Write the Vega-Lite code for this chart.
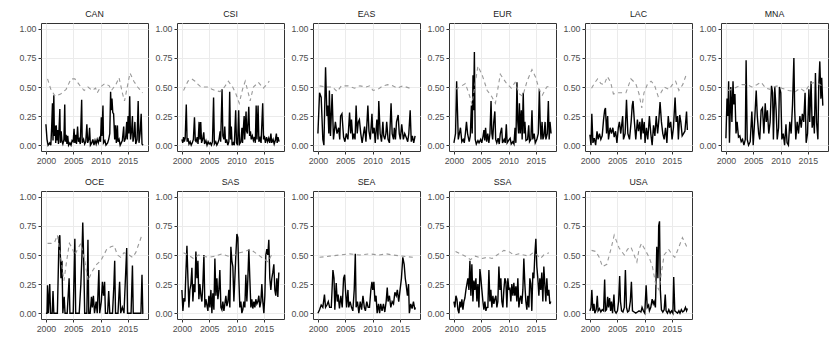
{
"$schema": "https://vega.github.io/schema/vega-lite/v6.json",
"background": "white",
"padding": {"left": 18, "top": 9, "right": 2, "bottom": 2},
"config": {
 "font": "Liberation Sans",
 "view": {"stroke": "#333333", "strokeWidth": 1},
 "axis": {"labelFont": "Liberation Sans", "labelFontSize": 8.8, "labelColor": "#4D4D4D", "tickColor": "#333333", "tickSize": 3, "labelPadding": 2, "domain": false, "gridColor": "#EBEBEB", "gridWidth": 1, "title": null}
},
"data": {"values": [
{"r":"CAN","k":"m","t":2000.0,"v":0.18},{"r":"CAN","k":"m","t":2000.2,"v":0.05},{"r":"CAN","k":"m","t":2000.4,"v":0.0},{"r":"CAN","k":"m","t":2000.7,"v":0.02},{"r":"CAN","k":"m","t":2000.9,"v":0.0},{"r":"CAN","k":"m","t":2001.05,"v":0.15},{"r":"CAN","k":"m","t":2001.2,"v":0.36},{"r":"CAN","k":"m","t":2001.3,"v":0.04},{"r":"CAN","k":"m","t":2001.45,"v":0.43},{"r":"CAN","k":"m","t":2001.55,"v":0.08},{"r":"CAN","k":"m","t":2001.7,"v":0.17},{"r":"CAN","k":"m","t":2001.8,"v":0.02},{"r":"CAN","k":"m","t":2001.9,"v":0.17},{"r":"CAN","k":"m","t":2002.0,"v":0.04},{"r":"CAN","k":"m","t":2002.15,"v":0.13},{"r":"CAN","k":"m","t":2002.3,"v":0.01},{"r":"CAN","k":"m","t":2002.55,"v":0.31},{"r":"CAN","k":"m","t":2002.65,"v":0.02},{"r":"CAN","k":"m","t":2002.8,"v":0.12},{"r":"CAN","k":"m","t":2002.95,"v":0.03},{"r":"CAN","k":"m","t":2003.1,"v":0.01},{"r":"CAN","k":"m","t":2003.3,"v":0.05},{"r":"CAN","k":"m","t":2003.45,"v":0.35},{"r":"CAN","k":"m","t":2003.55,"v":0.03},{"r":"CAN","k":"m","t":2003.7,"v":0.09},{"r":"CAN","k":"m","t":2003.85,"v":0.01},{"r":"CAN","k":"m","t":2004.0,"v":0.08},{"r":"CAN","k":"m","t":2004.15,"v":0.0},{"r":"CAN","k":"m","t":2004.4,"v":0.02},{"r":"CAN","k":"m","t":2004.6,"v":0.0},{"r":"CAN","k":"m","t":2004.8,"v":0.04},{"r":"CAN","k":"m","t":2005.0,"v":0.03},{"r":"CAN","k":"m","t":2005.15,"v":0.14},{"r":"CAN","k":"m","t":2005.3,"v":0.02},{"r":"CAN","k":"m","t":2005.45,"v":0.09},{"r":"CAN","k":"m","t":2005.6,"v":0.01},{"r":"CAN","k":"m","t":2005.8,"v":0.16},{"r":"CAN","k":"m","t":2005.95,"v":0.03},{"r":"CAN","k":"m","t":2006.1,"v":0.05},{"r":"CAN","k":"m","t":2006.3,"v":0.01},{"r":"CAN","k":"m","t":2006.55,"v":0.39},{"r":"CAN","k":"m","t":2006.65,"v":0.02},{"r":"CAN","k":"m","t":2006.9,"v":0.05},{"r":"CAN","k":"m","t":2007.1,"v":0.01},{"r":"CAN","k":"m","t":2007.3,"v":0.03},{"r":"CAN","k":"m","t":2007.5,"v":0.18},{"r":"CAN","k":"m","t":2007.65,"v":0.02},{"r":"CAN","k":"m","t":2007.85,"v":0.05},{"r":"CAN","k":"m","t":2008.0,"v":0.15},{"r":"CAN","k":"m","t":2008.15,"v":0.0},{"r":"CAN","k":"m","t":2008.4,"v":0.02},{"r":"CAN","k":"m","t":2008.6,"v":0.05},{"r":"CAN","k":"m","t":2008.8,"v":0.0},{"r":"CAN","k":"m","t":2009.0,"v":0.04},{"r":"CAN","k":"m","t":2009.2,"v":0.01},{"r":"CAN","k":"m","t":2009.4,"v":0.05},{"r":"CAN","k":"m","t":2009.6,"v":0.02},{"r":"CAN","k":"m","t":2009.8,"v":0.06},{"r":"CAN","k":"m","t":2010.0,"v":0.03},{"r":"CAN","k":"m","t":2010.15,"v":0.24},{"r":"CAN","k":"m","t":2010.25,"v":0.08},{"r":"CAN","k":"m","t":2010.45,"v":0.34},{"r":"CAN","k":"m","t":2010.55,"v":0.02},{"r":"CAN","k":"m","t":2010.8,"v":0.04},{"r":"CAN","k":"m","t":2011.0,"v":0.0},{"r":"CAN","k":"m","t":2011.3,"v":0.02},{"r":"CAN","k":"m","t":2011.5,"v":0.05},{"r":"CAN","k":"m","t":2011.7,"v":0.1},{"r":"CAN","k":"m","t":2011.85,"v":0.46},{"r":"CAN","k":"m","t":2011.95,"v":0.3},{"r":"CAN","k":"m","t":2012.1,"v":0.4},{"r":"CAN","k":"m","t":2012.25,"v":0.28},{"r":"CAN","k":"m","t":2012.4,"v":0.27},{"r":"CAN","k":"m","t":2012.6,"v":0.05},{"r":"CAN","k":"m","t":2012.75,"v":0.17},{"r":"CAN","k":"m","t":2012.9,"v":0.02},{"r":"CAN","k":"m","t":2013.1,"v":0.17},{"r":"CAN","k":"m","t":2013.2,"v":0.03},{"r":"CAN","k":"m","t":2013.4,"v":0.05},{"r":"CAN","k":"m","t":2013.6,"v":0.0},{"r":"CAN","k":"m","t":2013.8,"v":0.02},{"r":"CAN","k":"m","t":2014.0,"v":0.04},{"r":"CAN","k":"m","t":2014.25,"v":0.16},{"r":"CAN","k":"m","t":2014.35,"v":0.03},{"r":"CAN","k":"m","t":2014.6,"v":0.06},{"r":"CAN","k":"m","t":2014.8,"v":0.2},{"r":"CAN","k":"m","t":2014.9,"v":0.05},{"r":"CAN","k":"m","t":2015.05,"v":0.25},{"r":"CAN","k":"m","t":2015.2,"v":0.1},{"r":"CAN","k":"m","t":2015.35,"v":0.42},{"r":"CAN","k":"m","t":2015.5,"v":0.05},{"r":"CAN","k":"m","t":2015.7,"v":0.13},{"r":"CAN","k":"m","t":2015.85,"v":0.25},{"r":"CAN","k":"m","t":2015.95,"v":0.03},{"r":"CAN","k":"m","t":2016.15,"v":0.08},{"r":"CAN","k":"m","t":2016.3,"v":0.2},{"r":"CAN","k":"m","t":2016.45,"v":0.01},{"r":"CAN","k":"m","t":2016.7,"v":0.05},{"r":"CAN","k":"m","t":2016.9,"v":0.38},{"r":"CAN","k":"m","t":2017.05,"v":0.02},{"r":"CAN","k":"m","t":2017.25,"v":0.1},{"r":"CAN","k":"m","t":2017.45,"v":0.27},{"r":"CAN","k":"m","t":2017.6,"v":0.01},{"r":"CAN","k":"m","t":2017.8,"v":0.0},
{"r":"CAN","k":"d","t":2000.3,"v":0.57},{"r":"CAN","k":"d","t":2000.9,"v":0.48},{"r":"CAN","k":"d","t":2001.7,"v":0.42},{"r":"CAN","k":"d","t":2002.7,"v":0.44},{"r":"CAN","k":"d","t":2003.7,"v":0.48},{"r":"CAN","k":"d","t":2004.6,"v":0.57},{"r":"CAN","k":"d","t":2005.3,"v":0.57},{"r":"CAN","k":"d","t":2006.1,"v":0.52},{"r":"CAN","k":"d","t":2007.0,"v":0.47},{"r":"CAN","k":"d","t":2007.7,"v":0.5},{"r":"CAN","k":"d","t":2008.5,"v":0.47},{"r":"CAN","k":"d","t":2009.1,"v":0.49},{"r":"CAN","k":"d","t":2009.4,"v":0.45},{"r":"CAN","k":"d","t":2010.0,"v":0.5},{"r":"CAN","k":"d","t":2010.8,"v":0.53},{"r":"CAN","k":"d","t":2011.6,"v":0.51},{"r":"CAN","k":"d","t":2012.0,"v":0.47},{"r":"CAN","k":"d","t":2012.8,"v":0.52},{"r":"CAN","k":"d","t":2013.4,"v":0.58},{"r":"CAN","k":"d","t":2014.0,"v":0.45},{"r":"CAN","k":"d","t":2014.4,"v":0.38},{"r":"CAN","k":"d","t":2014.9,"v":0.5},{"r":"CAN","k":"d","t":2015.4,"v":0.62},{"r":"CAN","k":"d","t":2016.1,"v":0.55},{"r":"CAN","k":"d","t":2016.8,"v":0.5},{"r":"CAN","k":"d","t":2017.7,"v":0.45},
{"r":"CSI","k":"m","t":2000.0,"v":0.05},{"r":"CSI","k":"m","t":2000.15,"v":0.02},{"r":"CSI","k":"m","t":2000.3,"v":0.07},{"r":"CSI","k":"m","t":2000.45,"v":0.03},{"r":"CSI","k":"m","t":2000.6,"v":0.06},{"r":"CSI","k":"m","t":2000.8,"v":0.35},{"r":"CSI","k":"m","t":2000.95,"v":0.03},{"r":"CSI","k":"m","t":2001.1,"v":0.06},{"r":"CSI","k":"m","t":2001.3,"v":0.01},{"r":"CSI","k":"m","t":2001.5,"v":0.03},{"r":"CSI","k":"m","t":2001.7,"v":0.0},{"r":"CSI","k":"m","t":2001.9,"v":0.02},{"r":"CSI","k":"m","t":2002.1,"v":0.05},{"r":"CSI","k":"m","t":2002.3,"v":0.24},{"r":"CSI","k":"m","t":2002.45,"v":0.04},{"r":"CSI","k":"m","t":2002.6,"v":0.03},{"r":"CSI","k":"m","t":2002.8,"v":0.07},{"r":"CSI","k":"m","t":2002.95,"v":0.01},{"r":"CSI","k":"m","t":2003.15,"v":0.2},{"r":"CSI","k":"m","t":2003.3,"v":0.05},{"r":"CSI","k":"m","t":2003.45,"v":0.2},{"r":"CSI","k":"m","t":2003.6,"v":0.02},{"r":"CSI","k":"m","t":2003.8,"v":0.05},{"r":"CSI","k":"m","t":2004.0,"v":0.11},{"r":"CSI","k":"m","t":2004.15,"v":0.01},{"r":"CSI","k":"m","t":2004.4,"v":0.04},{"r":"CSI","k":"m","t":2004.6,"v":0.0},{"r":"CSI","k":"m","t":2004.8,"v":0.03},{"r":"CSI","k":"m","t":2005.0,"v":0.01},{"r":"CSI","k":"m","t":2005.2,"v":0.02},{"r":"CSI","k":"m","t":2005.4,"v":0.0},{"r":"CSI","k":"m","t":2005.6,"v":0.03},{"r":"CSI","k":"m","t":2005.8,"v":0.41},{"r":"CSI","k":"m","t":2005.95,"v":0.01},{"r":"CSI","k":"m","t":2006.2,"v":0.03},{"r":"CSI","k":"m","t":2006.4,"v":0.0},{"r":"CSI","k":"m","t":2006.6,"v":0.02},{"r":"CSI","k":"m","t":2006.8,"v":0.05},{"r":"CSI","k":"m","t":2007.0,"v":0.12},{"r":"CSI","k":"m","t":2007.1,"v":0.03},{"r":"CSI","k":"m","t":2007.35,"v":0.48},{"r":"CSI","k":"m","t":2007.5,"v":0.08},{"r":"CSI","k":"m","t":2007.7,"v":0.05},{"r":"CSI","k":"m","t":2007.85,"v":0.16},{"r":"CSI","k":"m","t":2008.0,"v":0.02},{"r":"CSI","k":"m","t":2008.2,"v":0.05},{"r":"CSI","k":"m","t":2008.4,"v":0.0},{"r":"CSI","k":"m","t":2008.6,"v":0.03},{"r":"CSI","k":"m","t":2008.75,"v":0.46},{"r":"CSI","k":"m","t":2008.9,"v":0.05},{"r":"CSI","k":"m","t":2009.05,"v":0.16},{"r":"CSI","k":"m","t":2009.2,"v":0.0},{"r":"CSI","k":"m","t":2009.4,"v":0.02},{"r":"CSI","k":"m","t":2009.6,"v":0.0},{"r":"CSI","k":"m","t":2009.85,"v":0.3},{"r":"CSI","k":"m","t":2010.0,"v":0.02},{"r":"CSI","k":"m","t":2010.2,"v":0.0},{"r":"CSI","k":"m","t":2010.4,"v":0.3},{"r":"CSI","k":"m","t":2010.55,"v":0.01},{"r":"CSI","k":"m","t":2010.8,"v":0.03},{"r":"CSI","k":"m","t":2011.0,"v":0.15},{"r":"CSI","k":"m","t":2011.1,"v":0.02},{"r":"CSI","k":"m","t":2011.4,"v":0.25},{"r":"CSI","k":"m","t":2011.5,"v":0.05},{"r":"CSI","k":"m","t":2011.75,"v":0.29},{"r":"CSI","k":"m","t":2011.85,"v":0.12},{"r":"CSI","k":"m","t":2012.0,"v":0.1},{"r":"CSI","k":"m","t":2012.25,"v":0.33},{"r":"CSI","k":"m","t":2012.4,"v":0.08},{"r":"CSI","k":"m","t":2012.55,"v":0.12},{"r":"CSI","k":"m","t":2012.7,"v":0.05},{"r":"CSI","k":"m","t":2012.9,"v":0.08},{"r":"CSI","k":"m","t":2013.1,"v":0.04},{"r":"CSI","k":"m","t":2013.3,"v":0.07},{"r":"CSI","k":"m","t":2013.45,"v":0.02},{"r":"CSI","k":"m","t":2013.6,"v":0.34},{"r":"CSI","k":"m","t":2013.75,"v":0.05},{"r":"CSI","k":"m","t":2013.95,"v":0.34},{"r":"CSI","k":"m","t":2014.1,"v":0.03},{"r":"CSI","k":"m","t":2014.3,"v":0.06},{"r":"CSI","k":"m","t":2014.5,"v":0.02},{"r":"CSI","k":"m","t":2014.8,"v":0.36},{"r":"CSI","k":"m","t":2014.95,"v":0.05},{"r":"CSI","k":"m","t":2015.1,"v":0.08},{"r":"CSI","k":"m","t":2015.3,"v":0.02},{"r":"CSI","k":"m","t":2015.5,"v":0.07},{"r":"CSI","k":"m","t":2015.7,"v":0.03},{"r":"CSI","k":"m","t":2015.9,"v":0.06},{"r":"CSI","k":"m","t":2016.1,"v":0.02},{"r":"CSI","k":"m","t":2016.3,"v":0.1},{"r":"CSI","k":"m","t":2016.45,"v":0.02},{"r":"CSI","k":"m","t":2016.7,"v":0.05},{"r":"CSI","k":"m","t":2016.9,"v":0.01},{"r":"CSI","k":"m","t":2017.1,"v":0.04},{"r":"CSI","k":"m","t":2017.3,"v":0.1},{"r":"CSI","k":"m","t":2017.45,"v":0.02},{"r":"CSI","k":"m","t":2017.6,"v":0.07},{"r":"CSI","k":"m","t":2017.8,"v":0.03},
{"r":"CSI","k":"d","t":2000.3,"v":0.47},{"r":"CSI","k":"d","t":2001.1,"v":0.55},{"r":"CSI","k":"d","t":2001.8,"v":0.57},{"r":"CSI","k":"d","t":2002.4,"v":0.55},{"r":"CSI","k":"d","t":2003.0,"v":0.52},{"r":"CSI","k":"d","t":2003.5,"v":0.5},{"r":"CSI","k":"d","t":2004.0,"v":0.5},{"r":"CSI","k":"d","t":2004.9,"v":0.5},{"r":"CSI","k":"d","t":2005.5,"v":0.48},{"r":"CSI","k":"d","t":2006.1,"v":0.47},{"r":"CSI","k":"d","t":2007.0,"v":0.46},{"r":"CSI","k":"d","t":2007.8,"v":0.5},{"r":"CSI","k":"d","t":2008.5,"v":0.55},{"r":"CSI","k":"d","t":2009.3,"v":0.5},{"r":"CSI","k":"d","t":2009.9,"v":0.44},{"r":"CSI","k":"d","t":2010.5,"v":0.36},{"r":"CSI","k":"d","t":2011.1,"v":0.48},{"r":"CSI","k":"d","t":2011.6,"v":0.55},{"r":"CSI","k":"d","t":2012.2,"v":0.44},{"r":"CSI","k":"d","t":2012.5,"v":0.38},{"r":"CSI","k":"d","t":2013.1,"v":0.5},{"r":"CSI","k":"d","t":2014.0,"v":0.54},{"r":"CSI","k":"d","t":2014.9,"v":0.49},{"r":"CSI","k":"d","t":2015.5,"v":0.52},{"r":"CSI","k":"d","t":2016.0,"v":0.55},
{"r":"EAS","k":"m","t":2000.0,"v":0.1},{"r":"EAS","k":"m","t":2000.3,"v":0.45},{"r":"EAS","k":"m","t":2000.6,"v":0.41},{"r":"EAS","k":"m","t":2000.9,"v":0.05},{"r":"EAS","k":"m","t":2001.1,"v":0.0},{"r":"EAS","k":"m","t":2001.4,"v":0.67},{"r":"EAS","k":"m","t":2001.65,"v":0.25},{"r":"EAS","k":"m","t":2001.8,"v":0.34},{"r":"EAS","k":"m","t":2002.0,"v":0.1},{"r":"EAS","k":"m","t":2002.1,"v":0.47},{"r":"EAS","k":"m","t":2002.3,"v":0.08},{"r":"EAS","k":"m","t":2002.6,"v":0.44},{"r":"EAS","k":"m","t":2002.85,"v":0.05},{"r":"EAS","k":"m","t":2003.2,"v":0.2},{"r":"EAS","k":"m","t":2003.5,"v":0.1},{"r":"EAS","k":"m","t":2003.8,"v":0.15},{"r":"EAS","k":"m","t":2004.0,"v":0.05},{"r":"EAS","k":"m","t":2004.15,"v":0.25},{"r":"EAS","k":"m","t":2004.4,"v":0.27},{"r":"EAS","k":"m","t":2004.7,"v":0.07},{"r":"EAS","k":"m","t":2004.95,"v":0.03},{"r":"EAS","k":"m","t":2005.2,"v":0.1},{"r":"EAS","k":"m","t":2005.5,"v":0.05},{"r":"EAS","k":"m","t":2005.8,"v":0.28},{"r":"EAS","k":"m","t":2006.0,"v":0.1},{"r":"EAS","k":"m","t":2006.15,"v":0.22},{"r":"EAS","k":"m","t":2006.4,"v":0.05},{"r":"EAS","k":"m","t":2006.6,"v":0.1},{"r":"EAS","k":"m","t":2006.8,"v":0.05},{"r":"EAS","k":"m","t":2007.0,"v":0.34},{"r":"EAS","k":"m","t":2007.2,"v":0.1},{"r":"EAS","k":"m","t":2007.4,"v":0.2},{"r":"EAS","k":"m","t":2007.6,"v":0.22},{"r":"EAS","k":"m","t":2007.85,"v":0.1},{"r":"EAS","k":"m","t":2008.1,"v":0.02},{"r":"EAS","k":"m","t":2008.35,"v":0.1},{"r":"EAS","k":"m","t":2008.55,"v":0.16},{"r":"EAS","k":"m","t":2008.8,"v":0.03},{"r":"EAS","k":"m","t":2009.15,"v":0.34},{"r":"EAS","k":"m","t":2009.35,"v":0.12},{"r":"EAS","k":"m","t":2009.6,"v":0.05},{"r":"EAS","k":"m","t":2009.9,"v":0.27},{"r":"EAS","k":"m","t":2010.05,"v":0.1},{"r":"EAS","k":"m","t":2010.3,"v":0.15},{"r":"EAS","k":"m","t":2010.5,"v":0.02},{"r":"EAS","k":"m","t":2010.8,"v":0.22},{"r":"EAS","k":"m","t":2011.0,"v":0.05},{"r":"EAS","k":"m","t":2011.15,"v":0.38},{"r":"EAS","k":"m","t":2011.4,"v":0.1},{"r":"EAS","k":"m","t":2011.65,"v":0.03},{"r":"EAS","k":"m","t":2011.9,"v":0.2},{"r":"EAS","k":"m","t":2012.05,"v":0.08},{"r":"EAS","k":"m","t":2012.25,"v":0.05},{"r":"EAS","k":"m","t":2012.45,"v":0.1},{"r":"EAS","k":"m","t":2012.6,"v":0.2},{"r":"EAS","k":"m","t":2012.85,"v":0.05},{"r":"EAS","k":"m","t":2013.1,"v":0.02},{"r":"EAS","k":"m","t":2013.4,"v":0.36},{"r":"EAS","k":"m","t":2013.6,"v":0.1},{"r":"EAS","k":"m","t":2013.85,"v":0.05},{"r":"EAS","k":"m","t":2014.0,"v":0.15},{"r":"EAS","k":"m","t":2014.2,"v":0.05},{"r":"EAS","k":"m","t":2014.4,"v":0.2},{"r":"EAS","k":"m","t":2014.7,"v":0.26},{"r":"EAS","k":"m","t":2014.9,"v":0.1},{"r":"EAS","k":"m","t":2015.1,"v":0.05},{"r":"EAS","k":"m","t":2015.35,"v":0.18},{"r":"EAS","k":"m","t":2015.65,"v":0.05},{"r":"EAS","k":"m","t":2015.9,"v":0.1},{"r":"EAS","k":"m","t":2016.15,"v":0.07},{"r":"EAS","k":"m","t":2016.45,"v":0.03},{"r":"EAS","k":"m","t":2016.65,"v":0.1},{"r":"EAS","k":"m","t":2016.9,"v":0.3},{"r":"EAS","k":"m","t":2017.1,"v":0.03},{"r":"EAS","k":"m","t":2017.3,"v":0.08},{"r":"EAS","k":"m","t":2017.55,"v":0.02},{"r":"EAS","k":"m","t":2017.8,"v":0.08},
{"r":"EAS","k":"d","t":2000.3,"v":0.51},{"r":"EAS","k":"d","t":2001.5,"v":0.5},{"r":"EAS","k":"d","t":2002.7,"v":0.5},{"r":"EAS","k":"d","t":2003.5,"v":0.46},{"r":"EAS","k":"d","t":2004.3,"v":0.51},{"r":"EAS","k":"d","t":2005.5,"v":0.51},{"r":"EAS","k":"d","t":2006.7,"v":0.49},{"r":"EAS","k":"d","t":2007.7,"v":0.51},{"r":"EAS","k":"d","t":2008.8,"v":0.5},{"r":"EAS","k":"d","t":2009.5,"v":0.51},{"r":"EAS","k":"d","t":2010.1,"v":0.47},{"r":"EAS","k":"d","t":2011.0,"v":0.48},{"r":"EAS","k":"d","t":2011.9,"v":0.51},{"r":"EAS","k":"d","t":2012.8,"v":0.52},{"r":"EAS","k":"d","t":2013.7,"v":0.51},{"r":"EAS","k":"d","t":2014.6,"v":0.49},{"r":"EAS","k":"d","t":2015.5,"v":0.51},{"r":"EAS","k":"d","t":2016.8,"v":0.49},{"r":"EAS","k":"d","t":2017.4,"v":0.49},
{"r":"EUR","k":"m","t":2000.0,"v":0.02},{"r":"EUR","k":"m","t":2000.3,"v":0.1},{"r":"EUR","k":"m","t":2000.5,"v":0.55},{"r":"EUR","k":"m","t":2000.65,"v":0.3},{"r":"EUR","k":"m","t":2000.8,"v":0.05},{"r":"EUR","k":"m","t":2001.0,"v":0.1},{"r":"EUR","k":"m","t":2001.2,"v":0.15},{"r":"EUR","k":"m","t":2001.45,"v":0.03},{"r":"EUR","k":"m","t":2001.7,"v":0.05},{"r":"EUR","k":"m","t":2001.9,"v":0.02},{"r":"EUR","k":"m","t":2002.1,"v":0.1},{"r":"EUR","k":"m","t":2002.3,"v":0.2},{"r":"EUR","k":"m","t":2002.5,"v":0.1},{"r":"EUR","k":"m","t":2002.8,"v":0.03},{"r":"EUR","k":"m","t":2003.0,"v":0.08},{"r":"EUR","k":"m","t":2003.2,"v":0.34},{"r":"EUR","k":"m","t":2003.35,"v":0.1},{"r":"EUR","k":"m","t":2003.5,"v":0.6},{"r":"EUR","k":"m","t":2003.6,"v":0.3},{"r":"EUR","k":"m","t":2003.75,"v":0.8},{"r":"EUR","k":"m","t":2003.9,"v":0.05},{"r":"EUR","k":"m","t":2004.1,"v":0.01},{"r":"EUR","k":"m","t":2004.4,"v":0.04},{"r":"EUR","k":"m","t":2004.6,"v":0.02},{"r":"EUR","k":"m","t":2004.9,"v":0.05},{"r":"EUR","k":"m","t":2005.1,"v":0.02},{"r":"EUR","k":"m","t":2005.35,"v":0.08},{"r":"EUR","k":"m","t":2005.5,"v":0.13},{"r":"EUR","k":"m","t":2005.65,"v":0.04},{"r":"EUR","k":"m","t":2005.8,"v":0.15},{"r":"EUR","k":"m","t":2006.0,"v":0.03},{"r":"EUR","k":"m","t":2006.2,"v":0.1},{"r":"EUR","k":"m","t":2006.4,"v":0.02},{"r":"EUR","k":"m","t":2006.6,"v":0.1},{"r":"EUR","k":"m","t":2006.8,"v":0.38},{"r":"EUR","k":"m","t":2006.95,"v":0.1},{"r":"EUR","k":"m","t":2007.1,"v":0.05},{"r":"EUR","k":"m","t":2007.3,"v":0.2},{"r":"EUR","k":"m","t":2007.5,"v":0.29},{"r":"EUR","k":"m","t":2007.65,"v":0.05},{"r":"EUR","k":"m","t":2007.85,"v":0.02},{"r":"EUR","k":"m","t":2008.1,"v":0.06},{"r":"EUR","k":"m","t":2008.3,"v":0.01},{"r":"EUR","k":"m","t":2008.5,"v":0.1},{"r":"EUR","k":"m","t":2008.75,"v":0.15},{"r":"EUR","k":"m","t":2008.9,"v":0.02},{"r":"EUR","k":"m","t":2009.2,"v":0.05},{"r":"EUR","k":"m","t":2009.4,"v":0.02},{"r":"EUR","k":"m","t":2009.6,"v":0.18},{"r":"EUR","k":"m","t":2009.75,"v":0.02},{"r":"EUR","k":"m","t":2010.0,"v":0.04},{"r":"EUR","k":"m","t":2010.3,"v":0.06},{"r":"EUR","k":"m","t":2010.5,"v":0.01},{"r":"EUR","k":"m","t":2010.8,"v":0.03},{"r":"EUR","k":"m","t":2011.0,"v":0.01},{"r":"EUR","k":"m","t":2011.2,"v":0.15},{"r":"EUR","k":"m","t":2011.35,"v":0.02},{"r":"EUR","k":"m","t":2011.55,"v":0.54},{"r":"EUR","k":"m","t":2011.7,"v":0.2},{"r":"EUR","k":"m","t":2011.85,"v":0.1},{"r":"EUR","k":"m","t":2012.0,"v":0.36},{"r":"EUR","k":"m","t":2012.15,"v":0.1},{"r":"EUR","k":"m","t":2012.35,"v":0.3},{"r":"EUR","k":"m","t":2012.5,"v":0.05},{"r":"EUR","k":"m","t":2012.7,"v":0.45},{"r":"EUR","k":"m","t":2012.85,"v":0.1},{"r":"EUR","k":"m","t":2013.0,"v":0.2},{"r":"EUR","k":"m","t":2013.2,"v":0.04},{"r":"EUR","k":"m","t":2013.5,"v":0.05},{"r":"EUR","k":"m","t":2013.7,"v":0.17},{"r":"EUR","k":"m","t":2013.85,"v":0.03},{"r":"EUR","k":"m","t":2014.1,"v":0.05},{"r":"EUR","k":"m","t":2014.3,"v":0.3},{"r":"EUR","k":"m","t":2014.45,"v":0.05},{"r":"EUR","k":"m","t":2014.7,"v":0.1},{"r":"EUR","k":"m","t":2014.9,"v":0.02},{"r":"EUR","k":"m","t":2015.2,"v":0.05},{"r":"EUR","k":"m","t":2015.45,"v":0.1},{"r":"EUR","k":"m","t":2015.65,"v":0.48},{"r":"EUR","k":"m","t":2015.8,"v":0.2},{"r":"EUR","k":"m","t":2015.95,"v":0.05},{"r":"EUR","k":"m","t":2016.15,"v":0.2},{"r":"EUR","k":"m","t":2016.3,"v":0.05},{"r":"EUR","k":"m","t":2016.5,"v":0.08},{"r":"EUR","k":"m","t":2016.7,"v":0.2},{"r":"EUR","k":"m","t":2016.85,"v":0.05},{"r":"EUR","k":"m","t":2017.1,"v":0.1},{"r":"EUR","k":"m","t":2017.3,"v":0.38},{"r":"EUR","k":"m","t":2017.45,"v":0.05},{"r":"EUR","k":"m","t":2017.6,"v":0.2},{"r":"EUR","k":"m","t":2017.8,"v":0.1},
{"r":"EUR","k":"d","t":2000.3,"v":0.48},{"r":"EUR","k":"d","t":2001.1,"v":0.5},{"r":"EUR","k":"d","t":2002.1,"v":0.53},{"r":"EUR","k":"d","t":2002.9,"v":0.42},{"r":"EUR","k":"d","t":2003.3,"v":0.35},{"r":"EUR","k":"d","t":2003.8,"v":0.5},{"r":"EUR","k":"d","t":2004.4,"v":0.68},{"r":"EUR","k":"d","t":2005.2,"v":0.6},{"r":"EUR","k":"d","t":2006.1,"v":0.47},{"r":"EUR","k":"d","t":2006.9,"v":0.42},{"r":"EUR","k":"d","t":2007.6,"v":0.36},{"r":"EUR","k":"d","t":2008.5,"v":0.61},{"r":"EUR","k":"d","t":2009.5,"v":0.54},{"r":"EUR","k":"d","t":2010.5,"v":0.49},{"r":"EUR","k":"d","t":2011.2,"v":0.54},{"r":"EUR","k":"d","t":2012.0,"v":0.44},{"r":"EUR","k":"d","t":2012.6,"v":0.42},{"r":"EUR","k":"d","t":2013.4,"v":0.55},{"r":"EUR","k":"d","t":2014.3,"v":0.65},{"r":"EUR","k":"d","t":2015.0,"v":0.58},{"r":"EUR","k":"d","t":2015.6,"v":0.48},{"r":"EUR","k":"d","t":2016.2,"v":0.43},{"r":"EUR","k":"d","t":2017.0,"v":0.5},{"r":"EUR","k":"d","t":2017.7,"v":0.51},
{"r":"LAC","k":"m","t":2000.0,"v":0.09},{"r":"LAC","k":"m","t":2000.2,"v":0.0},{"r":"LAC","k":"m","t":2000.35,"v":0.27},{"r":"LAC","k":"m","t":2000.55,"v":0.02},{"r":"LAC","k":"m","t":2000.8,"v":0.06},{"r":"LAC","k":"m","t":2001.05,"v":0.0},{"r":"LAC","k":"m","t":2001.3,"v":0.12},{"r":"LAC","k":"m","t":2001.5,"v":0.05},{"r":"LAC","k":"m","t":2001.75,"v":0.1},{"r":"LAC","k":"m","t":2002.0,"v":0.05},{"r":"LAC","k":"m","t":2002.25,"v":0.08},{"r":"LAC","k":"m","t":2002.5,"v":0.22},{"r":"LAC","k":"m","t":2002.7,"v":0.3},{"r":"LAC","k":"m","t":2002.85,"v":0.32},{"r":"LAC","k":"m","t":2003.05,"v":0.1},{"r":"LAC","k":"m","t":2003.25,"v":0.25},{"r":"LAC","k":"m","t":2003.4,"v":0.05},{"r":"LAC","k":"m","t":2003.7,"v":0.15},{"r":"LAC","k":"m","t":2003.95,"v":0.1},{"r":"LAC","k":"m","t":2004.2,"v":0.15},{"r":"LAC","k":"m","t":2004.45,"v":0.07},{"r":"LAC","k":"m","t":2004.7,"v":0.12},{"r":"LAC","k":"m","t":2004.95,"v":0.02},{"r":"LAC","k":"m","t":2005.2,"v":0.15},{"r":"LAC","k":"m","t":2005.4,"v":0.2},{"r":"LAC","k":"m","t":2005.65,"v":0.1},{"r":"LAC","k":"m","t":2006.0,"v":0.25},{"r":"LAC","k":"m","t":2006.15,"v":0.05},{"r":"LAC","k":"m","t":2006.45,"v":0.1},{"r":"LAC","k":"m","t":2006.7,"v":0.39},{"r":"LAC","k":"m","t":2006.95,"v":0.1},{"r":"LAC","k":"m","t":2007.25,"v":0.05},{"r":"LAC","k":"m","t":2007.55,"v":0.2},{"r":"LAC","k":"m","t":2007.75,"v":0.34},{"r":"LAC","k":"m","t":2007.9,"v":0.38},{"r":"LAC","k":"m","t":2008.15,"v":0.2},{"r":"LAC","k":"m","t":2008.4,"v":0.05},{"r":"LAC","k":"m","t":2008.7,"v":0.22},{"r":"LAC","k":"m","t":2008.9,"v":0.12},{"r":"LAC","k":"m","t":2009.15,"v":0.2},{"r":"LAC","k":"m","t":2009.35,"v":0.05},{"r":"LAC","k":"m","t":2009.55,"v":0.23},{"r":"LAC","k":"m","t":2009.75,"v":0.1},{"r":"LAC","k":"m","t":2009.95,"v":0.2},{"r":"LAC","k":"m","t":2010.1,"v":0.02},{"r":"LAC","k":"m","t":2010.35,"v":0.15},{"r":"LAC","k":"m","t":2010.6,"v":0.05},{"r":"LAC","k":"m","t":2010.9,"v":0.25},{"r":"LAC","k":"m","t":2011.15,"v":0.1},{"r":"LAC","k":"m","t":2011.4,"v":0.0},{"r":"LAC","k":"m","t":2011.65,"v":0.17},{"r":"LAC","k":"m","t":2011.9,"v":0.08},{"r":"LAC","k":"m","t":2012.15,"v":0.25},{"r":"LAC","k":"m","t":2012.4,"v":0.1},{"r":"LAC","k":"m","t":2012.6,"v":0.2},{"r":"LAC","k":"m","t":2012.85,"v":0.37},{"r":"LAC","k":"m","t":2013.1,"v":0.2},{"r":"LAC","k":"m","t":2013.35,"v":0.1},{"r":"LAC","k":"m","t":2013.6,"v":0.05},{"r":"LAC","k":"m","t":2013.85,"v":0.15},{"r":"LAC","k":"m","t":2014.1,"v":0.02},{"r":"LAC","k":"m","t":2014.35,"v":0.25},{"r":"LAC","k":"m","t":2014.55,"v":0.15},{"r":"LAC","k":"m","t":2014.8,"v":0.2},{"r":"LAC","k":"m","t":2015.05,"v":0.05},{"r":"LAC","k":"m","t":2015.3,"v":0.15},{"r":"LAC","k":"m","t":2015.6,"v":0.41},{"r":"LAC","k":"m","t":2015.8,"v":0.2},{"r":"LAC","k":"m","t":2016.05,"v":0.25},{"r":"LAC","k":"m","t":2016.2,"v":0.05},{"r":"LAC","k":"m","t":2016.45,"v":0.26},{"r":"LAC","k":"m","t":2016.65,"v":0.2},{"r":"LAC","k":"m","t":2016.9,"v":0.08},{"r":"LAC","k":"m","t":2017.15,"v":0.1},{"r":"LAC","k":"m","t":2017.4,"v":0.12},{"r":"LAC","k":"m","t":2017.7,"v":0.29},{"r":"LAC","k":"m","t":2017.85,"v":0.13},
{"r":"LAC","k":"d","t":2000.3,"v":0.49},{"r":"LAC","k":"d","t":2000.8,"v":0.53},{"r":"LAC","k":"d","t":2001.4,"v":0.57},{"r":"LAC","k":"d","t":2002.0,"v":0.53},{"r":"LAC","k":"d","t":2002.6,"v":0.52},{"r":"LAC","k":"d","t":2003.2,"v":0.59},{"r":"LAC","k":"d","t":2003.8,"v":0.54},{"r":"LAC","k":"d","t":2004.3,"v":0.44},{"r":"LAC","k":"d","t":2005.1,"v":0.45},{"r":"LAC","k":"d","t":2006.0,"v":0.45},{"r":"LAC","k":"d","t":2006.6,"v":0.45},{"r":"LAC","k":"d","t":2007.5,"v":0.57},{"r":"LAC","k":"d","t":2008.4,"v":0.53},{"r":"LAC","k":"d","t":2009.0,"v":0.44},{"r":"LAC","k":"d","t":2009.5,"v":0.32},{"r":"LAC","k":"d","t":2009.9,"v":0.45},{"r":"LAC","k":"d","t":2010.5,"v":0.52},{"r":"LAC","k":"d","t":2011.2,"v":0.55},{"r":"LAC","k":"d","t":2011.8,"v":0.52},{"r":"LAC","k":"d","t":2012.5,"v":0.42},{"r":"LAC","k":"d","t":2013.0,"v":0.45},{"r":"LAC","k":"d","t":2013.6,"v":0.5},{"r":"LAC","k":"d","t":2014.5,"v":0.48},{"r":"LAC","k":"d","t":2015.1,"v":0.52},{"r":"LAC","k":"d","t":2015.7,"v":0.55},{"r":"LAC","k":"d","t":2016.3,"v":0.47},{"r":"LAC","k":"d","t":2017.0,"v":0.52},{"r":"LAC","k":"d","t":2017.6,"v":0.6},
{"r":"MNA","k":"m","t":2000.0,"v":0.06},{"r":"MNA","k":"m","t":2000.2,"v":0.4},{"r":"MNA","k":"m","t":2000.35,"v":0.25},{"r":"MNA","k":"m","t":2000.5,"v":0.55},{"r":"MNA","k":"m","t":2000.65,"v":0.02},{"r":"MNA","k":"m","t":2000.9,"v":0.5},{"r":"MNA","k":"m","t":2001.1,"v":0.2},{"r":"MNA","k":"m","t":2001.3,"v":0.55},{"r":"MNA","k":"m","t":2001.45,"v":0.35},{"r":"MNA","k":"m","t":2001.65,"v":0.44},{"r":"MNA","k":"m","t":2001.85,"v":0.1},{"r":"MNA","k":"m","t":2002.05,"v":0.2},{"r":"MNA","k":"m","t":2002.3,"v":0.07},{"r":"MNA","k":"m","t":2002.55,"v":0.08},{"r":"MNA","k":"m","t":2002.8,"v":0.03},{"r":"MNA","k":"m","t":2003.05,"v":0.05},{"r":"MNA","k":"m","t":2003.3,"v":0.0},{"r":"MNA","k":"m","t":2003.55,"v":0.05},{"r":"MNA","k":"m","t":2003.7,"v":0.73},{"r":"MNA","k":"m","t":2003.9,"v":0.05},{"r":"MNA","k":"m","t":2004.15,"v":0.0},{"r":"MNA","k":"m","t":2004.45,"v":0.03},{"r":"MNA","k":"m","t":2004.75,"v":0.29},{"r":"MNA","k":"m","t":2005.0,"v":0.0},{"r":"MNA","k":"m","t":2005.25,"v":0.2},{"r":"MNA","k":"m","t":2005.55,"v":0.47},{"r":"MNA","k":"m","t":2005.75,"v":0.25},{"r":"MNA","k":"m","t":2006.0,"v":0.1},{"r":"MNA","k":"m","t":2006.2,"v":0.05},{"r":"MNA","k":"m","t":2006.45,"v":0.3},{"r":"MNA","k":"m","t":2006.7,"v":0.32},{"r":"MNA","k":"m","t":2006.95,"v":0.1},{"r":"MNA","k":"m","t":2007.2,"v":0.36},{"r":"MNA","k":"m","t":2007.4,"v":0.2},{"r":"MNA","k":"m","t":2007.6,"v":0.3},{"r":"MNA","k":"m","t":2007.85,"v":0.1},{"r":"MNA","k":"m","t":2008.1,"v":0.2},{"r":"MNA","k":"m","t":2008.35,"v":0.51},{"r":"MNA","k":"m","t":2008.55,"v":0.45},{"r":"MNA","k":"m","t":2008.7,"v":0.05},{"r":"MNA","k":"m","t":2008.95,"v":0.5},{"r":"MNA","k":"m","t":2009.2,"v":0.3},{"r":"MNA","k":"m","t":2009.4,"v":0.05},{"r":"MNA","k":"m","t":2009.65,"v":0.15},{"r":"MNA","k":"m","t":2009.8,"v":0.5},{"r":"MNA","k":"m","t":2010.05,"v":0.45},{"r":"MNA","k":"m","t":2010.25,"v":0.05},{"r":"MNA","k":"m","t":2010.5,"v":0.1},{"r":"MNA","k":"m","t":2010.75,"v":0.0},{"r":"MNA","k":"m","t":2011.0,"v":0.18},{"r":"MNA","k":"m","t":2011.2,"v":0.02},{"r":"MNA","k":"m","t":2011.45,"v":0.0},{"r":"MNA","k":"m","t":2011.7,"v":0.2},{"r":"MNA","k":"m","t":2011.95,"v":0.1},{"r":"MNA","k":"m","t":2012.2,"v":0.35},{"r":"MNA","k":"m","t":2012.45,"v":0.75},{"r":"MNA","k":"m","t":2012.6,"v":0.3},{"r":"MNA","k":"m","t":2012.8,"v":0.05},{"r":"MNA","k":"m","t":2013.05,"v":0.2},{"r":"MNA","k":"m","t":2013.3,"v":0.1},{"r":"MNA","k":"m","t":2013.55,"v":0.25},{"r":"MNA","k":"m","t":2013.8,"v":0.15},{"r":"MNA","k":"m","t":2014.0,"v":0.27},{"r":"MNA","k":"m","t":2014.25,"v":0.2},{"r":"MNA","k":"m","t":2014.5,"v":0.45},{"r":"MNA","k":"m","t":2014.7,"v":0.02},{"r":"MNA","k":"m","t":2014.95,"v":0.1},{"r":"MNA","k":"m","t":2015.2,"v":0.48},{"r":"MNA","k":"m","t":2015.35,"v":0.2},{"r":"MNA","k":"m","t":2015.6,"v":0.55},{"r":"MNA","k":"m","t":2015.8,"v":0.15},{"r":"MNA","k":"m","t":2016.05,"v":0.25},{"r":"MNA","k":"m","t":2016.2,"v":0.1},{"r":"MNA","k":"m","t":2016.4,"v":0.62},{"r":"MNA","k":"m","t":2016.6,"v":0.2},{"r":"MNA","k":"m","t":2016.85,"v":0.05},{"r":"MNA","k":"m","t":2017.0,"v":0.5},{"r":"MNA","k":"m","t":2017.2,"v":0.72},{"r":"MNA","k":"m","t":2017.4,"v":0.4},{"r":"MNA","k":"m","t":2017.55,"v":0.58},{"r":"MNA","k":"m","t":2017.75,"v":0.34},
{"r":"MNA","k":"d","t":2000.35,"v":0.47},{"r":"MNA","k":"d","t":2001.1,"v":0.48},{"r":"MNA","k":"d","t":2002.0,"v":0.5},{"r":"MNA","k":"d","t":2002.9,"v":0.52},{"r":"MNA","k":"d","t":2003.85,"v":0.52},{"r":"MNA","k":"d","t":2004.75,"v":0.5},{"r":"MNA","k":"d","t":2005.65,"v":0.52},{"r":"MNA","k":"d","t":2006.45,"v":0.54},{"r":"MNA","k":"d","t":2007.3,"v":0.49},{"r":"MNA","k":"d","t":2008.1,"v":0.48},{"r":"MNA","k":"d","t":2008.7,"v":0.5},{"r":"MNA","k":"d","t":2009.5,"v":0.51},{"r":"MNA","k":"d","t":2010.25,"v":0.49},{"r":"MNA","k":"d","t":2011.45,"v":0.47},{"r":"MNA","k":"d","t":2012.7,"v":0.46},{"r":"MNA","k":"d","t":2013.6,"v":0.49},{"r":"MNA","k":"d","t":2014.5,"v":0.46},{"r":"MNA","k":"d","t":2015.45,"v":0.53},{"r":"MNA","k":"d","t":2016.35,"v":0.54},{"r":"MNA","k":"d","t":2017.25,"v":0.52},{"r":"MNA","k":"d","t":2017.85,"v":0.5},
{"r":"OCE","k":"m","t":2000.0,"v":0.0},{"r":"OCE","k":"m","t":2000.2,"v":0.0},{"r":"OCE","k":"m","t":2000.3,"v":0.24},{"r":"OCE","k":"m","t":2000.45,"v":0.0},{"r":"OCE","k":"m","t":2000.7,"v":0.25},{"r":"OCE","k":"m","t":2000.85,"v":0.0},{"r":"OCE","k":"m","t":2001.15,"v":0.0},{"r":"OCE","k":"m","t":2001.3,"v":0.19},{"r":"OCE","k":"m","t":2001.45,"v":0.0},{"r":"OCE","k":"m","t":2002.1,"v":0.0},{"r":"OCE","k":"m","t":2002.4,"v":0.65},{"r":"OCE","k":"m","t":2002.55,"v":0.67},{"r":"OCE","k":"m","t":2002.75,"v":0.3},{"r":"OCE","k":"m","t":2002.95,"v":0.45},{"r":"OCE","k":"m","t":2003.1,"v":0.0},{"r":"OCE","k":"m","t":2003.35,"v":0.14},{"r":"OCE","k":"m","t":2003.5,"v":0.0},{"r":"OCE","k":"m","t":2003.9,"v":0.0},{"r":"OCE","k":"m","t":2004.25,"v":0.3},{"r":"OCE","k":"m","t":2004.4,"v":0.0},{"r":"OCE","k":"m","t":2005.0,"v":0.0},{"r":"OCE","k":"m","t":2005.3,"v":0.64},{"r":"OCE","k":"m","t":2005.45,"v":0.0},{"r":"OCE","k":"m","t":2006.1,"v":0.0},{"r":"OCE","k":"m","t":2006.4,"v":0.25},{"r":"OCE","k":"m","t":2006.6,"v":0.5},{"r":"OCE","k":"m","t":2006.75,"v":0.78},{"r":"OCE","k":"m","t":2006.95,"v":0.4},{"r":"OCE","k":"m","t":2007.1,"v":0.0},{"r":"OCE","k":"m","t":2007.5,"v":0.0},{"r":"OCE","k":"m","t":2007.7,"v":0.63},{"r":"OCE","k":"m","t":2007.85,"v":0.0},{"r":"OCE","k":"m","t":2008.1,"v":0.0},{"r":"OCE","k":"m","t":2008.35,"v":0.14},{"r":"OCE","k":"m","t":2008.5,"v":0.05},{"r":"OCE","k":"m","t":2008.7,"v":0.15},{"r":"OCE","k":"m","t":2008.9,"v":0.0},{"r":"OCE","k":"m","t":2009.2,"v":0.1},{"r":"OCE","k":"m","t":2009.4,"v":0.0},{"r":"OCE","k":"m","t":2009.7,"v":0.37},{"r":"OCE","k":"m","t":2009.85,"v":0.0},{"r":"OCE","k":"m","t":2010.15,"v":0.1},{"r":"OCE","k":"m","t":2010.35,"v":0.27},{"r":"OCE","k":"m","t":2010.55,"v":0.15},{"r":"OCE","k":"m","t":2010.75,"v":0.27},{"r":"OCE","k":"m","t":2010.9,"v":0.0},{"r":"OCE","k":"m","t":2011.3,"v":0.0},{"r":"OCE","k":"m","t":2011.5,"v":0.19},{"r":"OCE","k":"m","t":2011.7,"v":0.0},{"r":"OCE","k":"m","t":2012.2,"v":0.0},{"r":"OCE","k":"m","t":2012.45,"v":0.24},{"r":"OCE","k":"m","t":2012.6,"v":0.45},{"r":"OCE","k":"m","t":2012.75,"v":0.0},{"r":"OCE","k":"m","t":2013.2,"v":0.0},{"r":"OCE","k":"m","t":2013.5,"v":0.27},{"r":"OCE","k":"m","t":2013.7,"v":0.0},{"r":"OCE","k":"m","t":2014.0,"v":0.05},{"r":"OCE","k":"m","t":2014.3,"v":0.0},{"r":"OCE","k":"m","t":2014.8,"v":0.56},{"r":"OCE","k":"m","t":2014.95,"v":0.0},{"r":"OCE","k":"m","t":2015.6,"v":0.0},{"r":"OCE","k":"m","t":2015.85,"v":0.41},{"r":"OCE","k":"m","t":2016.0,"v":0.0},{"r":"OCE","k":"m","t":2016.5,"v":0.0},{"r":"OCE","k":"m","t":2017.0,"v":0.0},{"r":"OCE","k":"m","t":2017.4,"v":0.0},{"r":"OCE","k":"m","t":2017.6,"v":0.33},{"r":"OCE","k":"m","t":2017.75,"v":0.0},{"r":"OCE","k":"m","t":2017.85,"v":0.0},
{"r":"OCE","k":"d","t":2000.3,"v":0.6},{"r":"OCE","k":"d","t":2001.0,"v":0.6},{"r":"OCE","k":"d","t":2001.6,"v":0.61},{"r":"OCE","k":"d","t":2002.1,"v":0.67},{"r":"OCE","k":"d","t":2002.8,"v":0.45},{"r":"OCE","k":"d","t":2003.3,"v":0.28},{"r":"OCE","k":"d","t":2003.8,"v":0.45},{"r":"OCE","k":"d","t":2004.3,"v":0.6},{"r":"OCE","k":"d","t":2004.8,"v":0.56},{"r":"OCE","k":"d","t":2005.3,"v":0.5},{"r":"OCE","k":"d","t":2005.8,"v":0.55},{"r":"OCE","k":"d","t":2006.4,"v":0.6},{"r":"OCE","k":"d","t":2007.1,"v":0.45},{"r":"OCE","k":"d","t":2007.75,"v":0.28},{"r":"OCE","k":"d","t":2008.35,"v":0.35},{"r":"OCE","k":"d","t":2009.3,"v":0.42},{"r":"OCE","k":"d","t":2010.05,"v":0.45},{"r":"OCE","k":"d","t":2011.15,"v":0.55},{"r":"OCE","k":"d","t":2011.9,"v":0.57},{"r":"OCE","k":"d","t":2012.5,"v":0.58},{"r":"OCE","k":"d","t":2013.1,"v":0.5},{"r":"OCE","k":"d","t":2013.7,"v":0.48},{"r":"OCE","k":"d","t":2014.3,"v":0.52},{"r":"OCE","k":"d","t":2015.25,"v":0.5},{"r":"OCE","k":"d","t":2015.85,"v":0.48},{"r":"OCE","k":"d","t":2016.45,"v":0.52},{"r":"OCE","k":"d","t":2017.05,"v":0.6},{"r":"OCE","k":"d","t":2017.5,"v":0.66},
{"r":"SAS","k":"m","t":2000.0,"v":0.2},{"r":"SAS","k":"m","t":2000.18,"v":0.02},{"r":"SAS","k":"m","t":2000.37,"v":0.13},{"r":"SAS","k":"m","t":2000.55,"v":0.1},{"r":"SAS","k":"m","t":2000.73,"v":0.35},{"r":"SAS","k":"m","t":2000.92,"v":0.58},{"r":"SAS","k":"m","t":2001.1,"v":0.3},{"r":"SAS","k":"m","t":2001.28,"v":0.05},{"r":"SAS","k":"m","t":2001.46,"v":0.2},{"r":"SAS","k":"m","t":2001.65,"v":0.25},{"r":"SAS","k":"m","t":2001.83,"v":0.39},{"r":"SAS","k":"m","t":2002.01,"v":0.1},{"r":"SAS","k":"m","t":2002.2,"v":0.25},{"r":"SAS","k":"m","t":2002.38,"v":0.18},{"r":"SAS","k":"m","t":2002.56,"v":0.53},{"r":"SAS","k":"m","t":2002.75,"v":0.3},{"r":"SAS","k":"m","t":2002.93,"v":0.45},{"r":"SAS","k":"m","t":2003.11,"v":0.12},{"r":"SAS","k":"m","t":2003.29,"v":0.25},{"r":"SAS","k":"m","t":2003.48,"v":0.15},{"r":"SAS","k":"m","t":2003.66,"v":0.1},{"r":"SAS","k":"m","t":2003.84,"v":0.25},{"r":"SAS","k":"m","t":2004.03,"v":0.5},{"r":"SAS","k":"m","t":2004.21,"v":0.05},{"r":"SAS","k":"m","t":2004.39,"v":0.12},{"r":"SAS","k":"m","t":2004.58,"v":0.07},{"r":"SAS","k":"m","t":2004.76,"v":0.02},{"r":"SAS","k":"m","t":2004.94,"v":0.15},{"r":"SAS","k":"m","t":2005.12,"v":0.05},{"r":"SAS","k":"m","t":2005.31,"v":0.2},{"r":"SAS","k":"m","t":2005.49,"v":0.0},{"r":"SAS","k":"m","t":2005.67,"v":0.17},{"r":"SAS","k":"m","t":2005.86,"v":0.03},{"r":"SAS","k":"m","t":2006.04,"v":0.47},{"r":"SAS","k":"m","t":2006.22,"v":0.15},{"r":"SAS","k":"m","t":2006.41,"v":0.3},{"r":"SAS","k":"m","t":2006.59,"v":0.12},{"r":"SAS","k":"m","t":2006.77,"v":0.2},{"r":"SAS","k":"m","t":2006.95,"v":0.37},{"r":"SAS","k":"m","t":2007.14,"v":0.05},{"r":"SAS","k":"m","t":2007.32,"v":0.03},{"r":"SAS","k":"m","t":2007.5,"v":0.1},{"r":"SAS","k":"m","t":2007.69,"v":0.02},{"r":"SAS","k":"m","t":2007.87,"v":0.08},{"r":"SAS","k":"m","t":2008.05,"v":0.15},{"r":"SAS","k":"m","t":2008.24,"v":0.06},{"r":"SAS","k":"m","t":2008.42,"v":0.1},{"r":"SAS","k":"m","t":2008.6,"v":0.2},{"r":"SAS","k":"m","t":2008.78,"v":0.05},{"r":"SAS","k":"m","t":2008.97,"v":0.57},{"r":"SAS","k":"m","t":2009.15,"v":0.45},{"r":"SAS","k":"m","t":2009.33,"v":0.4},{"r":"SAS","k":"m","t":2009.52,"v":0.1},{"r":"SAS","k":"m","t":2009.7,"v":0.3},{"r":"SAS","k":"m","t":2009.88,"v":0.5},{"r":"SAS","k":"m","t":2010.07,"v":0.68},{"r":"SAS","k":"m","t":2010.25,"v":0.65},{"r":"SAS","k":"m","t":2010.43,"v":0.3},{"r":"SAS","k":"m","t":2010.61,"v":0.05},{"r":"SAS","k":"m","t":2010.8,"v":0.1},{"r":"SAS","k":"m","t":2010.98,"v":0.0},{"r":"SAS","k":"m","t":2011.16,"v":0.03},{"r":"SAS","k":"m","t":2011.35,"v":0.1},{"r":"SAS","k":"m","t":2011.53,"v":0.05},{"r":"SAS","k":"m","t":2011.71,"v":0.33},{"r":"SAS","k":"m","t":2011.9,"v":0.1},{"r":"SAS","k":"m","t":2012.08,"v":0.3},{"r":"SAS","k":"m","t":2012.26,"v":0.55},{"r":"SAS","k":"m","t":2012.44,"v":0.3},{"r":"SAS","k":"m","t":2012.63,"v":0.05},{"r":"SAS","k":"m","t":2012.81,"v":0.12},{"r":"SAS","k":"m","t":2012.99,"v":0.04},{"r":"SAS","k":"m","t":2013.18,"v":0.1},{"r":"SAS","k":"m","t":2013.36,"v":0.05},{"r":"SAS","k":"m","t":2013.54,"v":0.12},{"r":"SAS","k":"m","t":2013.73,"v":0.08},{"r":"SAS","k":"m","t":2013.91,"v":0.1},{"r":"SAS","k":"m","t":2014.09,"v":0.15},{"r":"SAS","k":"m","t":2014.27,"v":0.05},{"r":"SAS","k":"m","t":2014.46,"v":0.1},{"r":"SAS","k":"m","t":2014.64,"v":0.25},{"r":"SAS","k":"m","t":2014.82,"v":0.1},{"r":"SAS","k":"m","t":2015.01,"v":0.0},{"r":"SAS","k":"m","t":2015.19,"v":0.15},{"r":"SAS","k":"m","t":2015.37,"v":0.5},{"r":"SAS","k":"m","t":2015.56,"v":0.55},{"r":"SAS","k":"m","t":2015.74,"v":0.5},{"r":"SAS","k":"m","t":2015.92,"v":0.63},{"r":"SAS","k":"m","t":2016.1,"v":0.3},{"r":"SAS","k":"m","t":2016.29,"v":0.2},{"r":"SAS","k":"m","t":2016.47,"v":0.3},{"r":"SAS","k":"m","t":2016.65,"v":0.35},{"r":"SAS","k":"m","t":2016.84,"v":0.42},{"r":"SAS","k":"m","t":2017.02,"v":0.2},{"r":"SAS","k":"m","t":2017.2,"v":0.15},{"r":"SAS","k":"m","t":2017.39,"v":0.3},{"r":"SAS","k":"m","t":2017.57,"v":0.14},{"r":"SAS","k":"m","t":2017.75,"v":0.35},
{"r":"SAS","k":"d","t":2000.3,"v":0.52},{"r":"SAS","k":"d","t":2001.2,"v":0.5},{"r":"SAS","k":"d","t":2002.1,"v":0.47},{"r":"SAS","k":"d","t":2003.0,"v":0.5},{"r":"SAS","k":"d","t":2003.9,"v":0.49},{"r":"SAS","k":"d","t":2004.9,"v":0.48},{"r":"SAS","k":"d","t":2006.1,"v":0.49},{"r":"SAS","k":"d","t":2007.3,"v":0.51},{"r":"SAS","k":"d","t":2008.5,"v":0.49},{"r":"SAS","k":"d","t":2009.7,"v":0.5},{"r":"SAS","k":"d","t":2010.6,"v":0.52},{"r":"SAS","k":"d","t":2011.6,"v":0.53},{"r":"SAS","k":"d","t":2012.5,"v":0.55},{"r":"SAS","k":"d","t":2013.4,"v":0.52},{"r":"SAS","k":"d","t":2014.3,"v":0.49},{"r":"SAS","k":"d","t":2015.2,"v":0.46},{"r":"SAS","k":"d","t":2015.8,"v":0.44},{"r":"SAS","k":"d","t":2016.4,"v":0.5},{"r":"SAS","k":"d","t":2017.0,"v":0.51},
{"r":"SEA","k":"m","t":2000.0,"v":0.0},{"r":"SEA","k":"m","t":2000.3,"v":0.03},{"r":"SEA","k":"m","t":2000.6,"v":0.07},{"r":"SEA","k":"m","t":2000.9,"v":0.05},{"r":"SEA","k":"m","t":2001.2,"v":0.16},{"r":"SEA","k":"m","t":2001.4,"v":0.05},{"r":"SEA","k":"m","t":2001.65,"v":0.07},{"r":"SEA","k":"m","t":2001.9,"v":0.1},{"r":"SEA","k":"m","t":2002.15,"v":0.05},{"r":"SEA","k":"m","t":2002.45,"v":0.05},{"r":"SEA","k":"m","t":2002.75,"v":0.37},{"r":"SEA","k":"m","t":2002.95,"v":0.3},{"r":"SEA","k":"m","t":2003.1,"v":0.03},{"r":"SEA","k":"m","t":2003.35,"v":0.26},{"r":"SEA","k":"m","t":2003.55,"v":0.1},{"r":"SEA","k":"m","t":2003.7,"v":0.16},{"r":"SEA","k":"m","t":2003.95,"v":0.04},{"r":"SEA","k":"m","t":2004.2,"v":0.15},{"r":"SEA","k":"m","t":2004.45,"v":0.05},{"r":"SEA","k":"m","t":2004.7,"v":0.3},{"r":"SEA","k":"m","t":2004.9,"v":0.33},{"r":"SEA","k":"m","t":2005.05,"v":0.2},{"r":"SEA","k":"m","t":2005.25,"v":0.05},{"r":"SEA","k":"m","t":2005.5,"v":0.2},{"r":"SEA","k":"m","t":2005.65,"v":0.05},{"r":"SEA","k":"m","t":2005.9,"v":0.1},{"r":"SEA","k":"m","t":2006.15,"v":0.05},{"r":"SEA","k":"m","t":2006.4,"v":0.02},{"r":"SEA","k":"m","t":2006.65,"v":0.2},{"r":"SEA","k":"m","t":2006.85,"v":0.51},{"r":"SEA","k":"m","t":2007.0,"v":0.05},{"r":"SEA","k":"m","t":2007.25,"v":0.1},{"r":"SEA","k":"m","t":2007.5,"v":0.0},{"r":"SEA","k":"m","t":2007.75,"v":0.1},{"r":"SEA","k":"m","t":2008.0,"v":0.03},{"r":"SEA","k":"m","t":2008.25,"v":0.15},{"r":"SEA","k":"m","t":2008.5,"v":0.05},{"r":"SEA","k":"m","t":2008.7,"v":0.02},{"r":"SEA","k":"m","t":2008.95,"v":0.1},{"r":"SEA","k":"m","t":2009.2,"v":0.05},{"r":"SEA","k":"m","t":2009.45,"v":0.05},{"r":"SEA","k":"m","t":2009.7,"v":0.2},{"r":"SEA","k":"m","t":2009.9,"v":0.27},{"r":"SEA","k":"m","t":2010.05,"v":0.2},{"r":"SEA","k":"m","t":2010.25,"v":0.27},{"r":"SEA","k":"m","t":2010.45,"v":0.1},{"r":"SEA","k":"m","t":2010.65,"v":0.15},{"r":"SEA","k":"m","t":2010.85,"v":0.0},{"r":"SEA","k":"m","t":2011.1,"v":0.08},{"r":"SEA","k":"m","t":2011.3,"v":0.0},{"r":"SEA","k":"m","t":2011.5,"v":0.08},{"r":"SEA","k":"m","t":2011.75,"v":0.02},{"r":"SEA","k":"m","t":2012.0,"v":0.08},{"r":"SEA","k":"m","t":2012.25,"v":0.01},{"r":"SEA","k":"m","t":2012.5,"v":0.1},{"r":"SEA","k":"m","t":2012.7,"v":0.22},{"r":"SEA","k":"m","t":2012.85,"v":0.1},{"r":"SEA","k":"m","t":2013.1,"v":0.15},{"r":"SEA","k":"m","t":2013.35,"v":0.05},{"r":"SEA","k":"m","t":2013.6,"v":0.1},{"r":"SEA","k":"m","t":2013.85,"v":0.08},{"r":"SEA","k":"m","t":2014.1,"v":0.18},{"r":"SEA","k":"m","t":2014.35,"v":0.15},{"r":"SEA","k":"m","t":2014.55,"v":0.2},{"r":"SEA","k":"m","t":2014.8,"v":0.1},{"r":"SEA","k":"m","t":2015.05,"v":0.2},{"r":"SEA","k":"m","t":2015.3,"v":0.3},{"r":"SEA","k":"m","t":2015.55,"v":0.48},{"r":"SEA","k":"m","t":2015.8,"v":0.42},{"r":"SEA","k":"m","t":2016.0,"v":0.3},{"r":"SEA","k":"m","t":2016.15,"v":0.25},{"r":"SEA","k":"m","t":2016.4,"v":0.15},{"r":"SEA","k":"m","t":2016.6,"v":0.25},{"r":"SEA","k":"m","t":2016.75,"v":0.0},{"r":"SEA","k":"m","t":2017.0,"v":0.08},{"r":"SEA","k":"m","t":2017.25,"v":0.04},{"r":"SEA","k":"m","t":2017.5,"v":0.1},{"r":"SEA","k":"m","t":2017.75,"v":0.03},{"r":"SEA","k":"m","t":2017.85,"v":0.05},
{"r":"SEA","k":"d","t":2000.3,"v":0.48},{"r":"SEA","k":"d","t":2002.1,"v":0.49},{"r":"SEA","k":"d","t":2004.0,"v":0.5},{"r":"SEA","k":"d","t":2005.8,"v":0.51},{"r":"SEA","k":"d","t":2007.6,"v":0.5},{"r":"SEA","k":"d","t":2009.4,"v":0.51},{"r":"SEA","k":"d","t":2011.2,"v":0.5},{"r":"SEA","k":"d","t":2012.5,"v":0.51},{"r":"SEA","k":"d","t":2013.7,"v":0.5},{"r":"SEA","k":"d","t":2015.5,"v":0.49},{"r":"SEA","k":"d","t":2017.4,"v":0.48},
{"r":"SSA","k":"m","t":2000.0,"v":0.1},{"r":"SSA","k":"m","t":2000.18,"v":0.05},{"r":"SSA","k":"m","t":2000.37,"v":0.15},{"r":"SSA","k":"m","t":2000.55,"v":0.12},{"r":"SSA","k":"m","t":2000.73,"v":0.03},{"r":"SSA","k":"m","t":2000.92,"v":0.0},{"r":"SSA","k":"m","t":2001.1,"v":0.1},{"r":"SSA","k":"m","t":2001.28,"v":0.05},{"r":"SSA","k":"m","t":2001.46,"v":0.12},{"r":"SSA","k":"m","t":2001.65,"v":0.03},{"r":"SSA","k":"m","t":2001.83,"v":0.1},{"r":"SSA","k":"m","t":2002.01,"v":0.13},{"r":"SSA","k":"m","t":2002.2,"v":0.2},{"r":"SSA","k":"m","t":2002.38,"v":0.25},{"r":"SSA","k":"m","t":2002.56,"v":0.3},{"r":"SSA","k":"m","t":2002.75,"v":0.2},{"r":"SSA","k":"m","t":2002.93,"v":0.45},{"r":"SSA","k":"m","t":2003.11,"v":0.15},{"r":"SSA","k":"m","t":2003.29,"v":0.42},{"r":"SSA","k":"m","t":2003.48,"v":0.1},{"r":"SSA","k":"m","t":2003.66,"v":0.28},{"r":"SSA","k":"m","t":2003.84,"v":0.2},{"r":"SSA","k":"m","t":2004.03,"v":0.3},{"r":"SSA","k":"m","t":2004.21,"v":0.1},{"r":"SSA","k":"m","t":2004.39,"v":0.25},{"r":"SSA","k":"m","t":2004.58,"v":0.05},{"r":"SSA","k":"m","t":2004.76,"v":0.38},{"r":"SSA","k":"m","t":2004.94,"v":0.3},{"r":"SSA","k":"m","t":2005.12,"v":0.2},{"r":"SSA","k":"m","t":2005.31,"v":0.1},{"r":"SSA","k":"m","t":2005.49,"v":0.03},{"r":"SSA","k":"m","t":2005.67,"v":0.1},{"r":"SSA","k":"m","t":2005.86,"v":0.02},{"r":"SSA","k":"m","t":2006.04,"v":0.05},{"r":"SSA","k":"m","t":2006.22,"v":0.05},{"r":"SSA","k":"m","t":2006.41,"v":0.37},{"r":"SSA","k":"m","t":2006.59,"v":0.1},{"r":"SSA","k":"m","t":2006.77,"v":0.2},{"r":"SSA","k":"m","t":2006.95,"v":0.05},{"r":"SSA","k":"m","t":2007.14,"v":0.15},{"r":"SSA","k":"m","t":2007.32,"v":0.08},{"r":"SSA","k":"m","t":2007.5,"v":0.12},{"r":"SSA","k":"m","t":2007.69,"v":0.15},{"r":"SSA","k":"m","t":2007.87,"v":0.05},{"r":"SSA","k":"m","t":2008.05,"v":0.1},{"r":"SSA","k":"m","t":2008.24,"v":0.4},{"r":"SSA","k":"m","t":2008.42,"v":0.2},{"r":"SSA","k":"m","t":2008.6,"v":0.3},{"r":"SSA","k":"m","t":2008.78,"v":0.1},{"r":"SSA","k":"m","t":2008.97,"v":0.05},{"r":"SSA","k":"m","t":2009.15,"v":0.2},{"r":"SSA","k":"m","t":2009.33,"v":0.3},{"r":"SSA","k":"m","t":2009.52,"v":0.27},{"r":"SSA","k":"m","t":2009.7,"v":0.05},{"r":"SSA","k":"m","t":2009.88,"v":0.3},{"r":"SSA","k":"m","t":2010.07,"v":0.2},{"r":"SSA","k":"m","t":2010.25,"v":0.22},{"r":"SSA","k":"m","t":2010.43,"v":0.1},{"r":"SSA","k":"m","t":2010.61,"v":0.25},{"r":"SSA","k":"m","t":2010.8,"v":0.15},{"r":"SSA","k":"m","t":2010.98,"v":0.26},{"r":"SSA","k":"m","t":2011.16,"v":0.15},{"r":"SSA","k":"m","t":2011.35,"v":0.23},{"r":"SSA","k":"m","t":2011.53,"v":0.1},{"r":"SSA","k":"m","t":2011.71,"v":0.3},{"r":"SSA","k":"m","t":2011.9,"v":0.05},{"r":"SSA","k":"m","t":2012.08,"v":0.12},{"r":"SSA","k":"m","t":2012.26,"v":0.15},{"r":"SSA","k":"m","t":2012.44,"v":0.08},{"r":"SSA","k":"m","t":2012.63,"v":0.2},{"r":"SSA","k":"m","t":2012.81,"v":0.47},{"r":"SSA","k":"m","t":2012.99,"v":0.25},{"r":"SSA","k":"m","t":2013.18,"v":0.1},{"r":"SSA","k":"m","t":2013.36,"v":0.03},{"r":"SSA","k":"m","t":2013.54,"v":0.15},{"r":"SSA","k":"m","t":2013.73,"v":0.05},{"r":"SSA","k":"m","t":2013.91,"v":0.3},{"r":"SSA","k":"m","t":2014.09,"v":0.25},{"r":"SSA","k":"m","t":2014.27,"v":0.02},{"r":"SSA","k":"m","t":2014.46,"v":0.35},{"r":"SSA","k":"m","t":2014.64,"v":0.3},{"r":"SSA","k":"m","t":2014.82,"v":0.5},{"r":"SSA","k":"m","t":2015.01,"v":0.64},{"r":"SSA","k":"m","t":2015.19,"v":0.4},{"r":"SSA","k":"m","t":2015.37,"v":0.3},{"r":"SSA","k":"m","t":2015.56,"v":0.15},{"r":"SSA","k":"m","t":2015.74,"v":0.3},{"r":"SSA","k":"m","t":2015.92,"v":0.2},{"r":"SSA","k":"m","t":2016.1,"v":0.35},{"r":"SSA","k":"m","t":2016.29,"v":0.1},{"r":"SSA","k":"m","t":2016.47,"v":0.4},{"r":"SSA","k":"m","t":2016.65,"v":0.25},{"r":"SSA","k":"m","t":2016.84,"v":0.1},{"r":"SSA","k":"m","t":2017.02,"v":0.3},{"r":"SSA","k":"m","t":2017.2,"v":0.15},{"r":"SSA","k":"m","t":2017.39,"v":0.2},{"r":"SSA","k":"m","t":2017.57,"v":0.08},{"r":"SSA","k":"m","t":2017.75,"v":0.1},
{"r":"SSA","k":"d","t":2000.3,"v":0.53},{"r":"SSA","k":"d","t":2001.2,"v":0.51},{"r":"SSA","k":"d","t":2002.1,"v":0.49},{"r":"SSA","k":"d","t":2003.05,"v":0.46},{"r":"SSA","k":"d","t":2003.95,"v":0.49},{"r":"SSA","k":"d","t":2005.2,"v":0.47},{"r":"SSA","k":"d","t":2006.1,"v":0.48},{"r":"SSA","k":"d","t":2007.0,"v":0.47},{"r":"SSA","k":"d","t":2007.9,"v":0.5},{"r":"SSA","k":"d","t":2009.15,"v":0.54},{"r":"SSA","k":"d","t":2010.05,"v":0.53},{"r":"SSA","k":"d","t":2011.0,"v":0.5},{"r":"SSA","k":"d","t":2011.9,"v":0.51},{"r":"SSA","k":"d","t":2012.8,"v":0.5},{"r":"SSA","k":"d","t":2013.7,"v":0.49},{"r":"SSA","k":"d","t":2014.5,"v":0.52},{"r":"SSA","k":"d","t":2015.25,"v":0.5},{"r":"SSA","k":"d","t":2015.85,"v":0.47},{"r":"SSA","k":"d","t":2016.45,"v":0.5},{"r":"SSA","k":"d","t":2017.4,"v":0.52},
{"r":"USA","k":"m","t":2000.0,"v":0.02},{"r":"USA","k":"m","t":2000.2,"v":0.05},{"r":"USA","k":"m","t":2000.35,"v":0.2},{"r":"USA","k":"m","t":2000.55,"v":0.02},{"r":"USA","k":"m","t":2000.75,"v":0.08},{"r":"USA","k":"m","t":2000.9,"v":0.0},{"r":"USA","k":"m","t":2001.15,"v":0.03},{"r":"USA","k":"m","t":2001.35,"v":0.15},{"r":"USA","k":"m","t":2001.5,"v":0.02},{"r":"USA","k":"m","t":2001.75,"v":0.04},{"r":"USA","k":"m","t":2002.0,"v":0.01},{"r":"USA","k":"m","t":2002.25,"v":0.03},{"r":"USA","k":"m","t":2002.5,"v":0.02},{"r":"USA","k":"m","t":2002.7,"v":0.29},{"r":"USA","k":"m","t":2002.85,"v":0.02},{"r":"USA","k":"m","t":2003.05,"v":0.03},{"r":"USA","k":"m","t":2003.25,"v":0.14},{"r":"USA","k":"m","t":2003.4,"v":0.05},{"r":"USA","k":"m","t":2003.6,"v":0.13},{"r":"USA","k":"m","t":2003.8,"v":0.02},{"r":"USA","k":"m","t":2003.95,"v":0.1},{"r":"USA","k":"m","t":2004.15,"v":0.0},{"r":"USA","k":"m","t":2004.4,"v":0.16},{"r":"USA","k":"m","t":2004.55,"v":0.02},{"r":"USA","k":"m","t":2004.8,"v":0.0},{"r":"USA","k":"m","t":2005.05,"v":0.02},{"r":"USA","k":"m","t":2005.25,"v":0.1},{"r":"USA","k":"m","t":2005.45,"v":0.32},{"r":"USA","k":"m","t":2005.6,"v":0.1},{"r":"USA","k":"m","t":2005.8,"v":0.02},{"r":"USA","k":"m","t":2006.05,"v":0.01},{"r":"USA","k":"m","t":2006.3,"v":0.05},{"r":"USA","k":"m","t":2006.5,"v":0.37},{"r":"USA","k":"m","t":2006.7,"v":0.05},{"r":"USA","k":"m","t":2006.9,"v":0.01},{"r":"USA","k":"m","t":2007.15,"v":0.02},{"r":"USA","k":"m","t":2007.4,"v":0.1},{"r":"USA","k":"m","t":2007.6,"v":0.27},{"r":"USA","k":"m","t":2007.8,"v":0.02},{"r":"USA","k":"m","t":2008.1,"v":0.01},{"r":"USA","k":"m","t":2008.4,"v":0.0},{"r":"USA","k":"m","t":2008.7,"v":0.01},{"r":"USA","k":"m","t":2009.0,"v":0.02},{"r":"USA","k":"m","t":2009.35,"v":0.01},{"r":"USA","k":"m","t":2009.55,"v":0.05},{"r":"USA","k":"m","t":2009.8,"v":0.02},{"r":"USA","k":"m","t":2010.05,"v":0.0},{"r":"USA","k":"m","t":2010.3,"v":0.24},{"r":"USA","k":"m","t":2010.5,"v":0.05},{"r":"USA","k":"m","t":2010.75,"v":0.07},{"r":"USA","k":"m","t":2010.9,"v":0.02},{"r":"USA","k":"m","t":2011.15,"v":0.05},{"r":"USA","k":"m","t":2011.4,"v":0.12},{"r":"USA","k":"m","t":2011.6,"v":0.08},{"r":"USA","k":"m","t":2011.75,"v":0.1},{"r":"USA","k":"m","t":2012.0,"v":0.05},{"r":"USA","k":"m","t":2012.25,"v":0.57},{"r":"USA","k":"m","t":2012.45,"v":0.3},{"r":"USA","k":"m","t":2012.6,"v":0.75},{"r":"USA","k":"m","t":2012.75,"v":0.79},{"r":"USA","k":"m","t":2012.9,"v":0.2},{"r":"USA","k":"m","t":2013.1,"v":0.03},{"r":"USA","k":"m","t":2013.35,"v":0.01},{"r":"USA","k":"m","t":2013.6,"v":0.03},{"r":"USA","k":"m","t":2013.8,"v":0.16},{"r":"USA","k":"m","t":2013.95,"v":0.02},{"r":"USA","k":"m","t":2014.2,"v":0.0},{"r":"USA","k":"m","t":2014.45,"v":0.03},{"r":"USA","k":"m","t":2014.7,"v":0.0},{"r":"USA","k":"m","t":2014.95,"v":0.02},{"r":"USA","k":"m","t":2015.2,"v":0.0},{"r":"USA","k":"m","t":2015.35,"v":0.31},{"r":"USA","k":"m","t":2015.55,"v":0.02},{"r":"USA","k":"m","t":2015.8,"v":0.01},{"r":"USA","k":"m","t":2016.05,"v":0.0},{"r":"USA","k":"m","t":2016.3,"v":0.02},{"r":"USA","k":"m","t":2016.5,"v":0.0},{"r":"USA","k":"m","t":2016.75,"v":0.03},{"r":"USA","k":"m","t":2017.0,"v":0.01},{"r":"USA","k":"m","t":2017.25,"v":0.02},{"r":"USA","k":"m","t":2017.5,"v":0.05},{"r":"USA","k":"m","t":2017.7,"v":0.02},{"r":"USA","k":"m","t":2017.85,"v":0.04},
{"r":"USA","k":"d","t":2000.3,"v":0.54},{"r":"USA","k":"d","t":2001.1,"v":0.53},{"r":"USA","k":"d","t":2001.7,"v":0.48},{"r":"USA","k":"d","t":2002.3,"v":0.4},{"r":"USA","k":"d","t":2003.1,"v":0.42},{"r":"USA","k":"d","t":2003.85,"v":0.55},{"r":"USA","k":"d","t":2004.45,"v":0.67},{"r":"USA","k":"d","t":2005.35,"v":0.56},{"r":"USA","k":"d","t":2006.3,"v":0.5},{"r":"USA","k":"d","t":2006.9,"v":0.55},{"r":"USA","k":"d","t":2007.5,"v":0.57},{"r":"USA","k":"d","t":2008.1,"v":0.5},{"r":"USA","k":"d","t":2008.6,"v":0.44},{"r":"USA","k":"d","t":2009.0,"v":0.55},{"r":"USA","k":"d","t":2009.45,"v":0.6},{"r":"USA","k":"d","t":2010.05,"v":0.55},{"r":"USA","k":"d","t":2010.85,"v":0.48},{"r":"USA","k":"d","t":2011.45,"v":0.4},{"r":"USA","k":"d","t":2012.05,"v":0.25},{"r":"USA","k":"d","t":2012.65,"v":0.2},{"r":"USA","k":"d","t":2013.1,"v":0.35},{"r":"USA","k":"d","t":2013.6,"v":0.5},{"r":"USA","k":"d","t":2014.4,"v":0.55},{"r":"USA","k":"d","t":2015.1,"v":0.5},{"r":"USA","k":"d","t":2015.55,"v":0.48},{"r":"USA","k":"d","t":2016.15,"v":0.55},{"r":"USA","k":"d","t":2016.95,"v":0.65},{"r":"USA","k":"d","t":2017.75,"v":0.57}
]},
"facet": {"field": "r", "type": "nominal", "header": {"title": null, "labelFont": "Liberation Sans", "labelFontSize": 8.8, "labelColor": "#1A1A1A", "labelPadding": 4}},
"columns": 6,
"spacing": {"row": 11, "column": 5},
"resolve": {"axis": {"x": "independent", "y": "independent"}},
"spec": {
 "width": 107,
 "height": 128,
 "encoding": {
  "x": {"field": "t", "type": "quantitative", "scale": {"domain": [1999.1, 2018.7], "nice": false, "zero": false}, "axis": {"values": [2000, 2005, 2010, 2015], "format": "d", "labelFlush": false}},
  "y": {"field": "v", "type": "quantitative", "scale": {"domain": [-0.05, 1.05], "nice": false}, "axis": {"values": [0, 0.25, 0.5, 0.75, 1], "format": ".2f"}}
 },
 "layer": [
  {"transform": [{"filter": "datum.k == 'm'"}], "mark": {"type": "line", "color": "black", "strokeWidth": 1.4, "clip": true}},
  {"transform": [{"filter": "datum.k == 'd'"}], "mark": {"type": "line", "color": "#999999", "strokeWidth": 1.1, "strokeDash": [4, 3.5], "clip": true}}
 ]
}
}
